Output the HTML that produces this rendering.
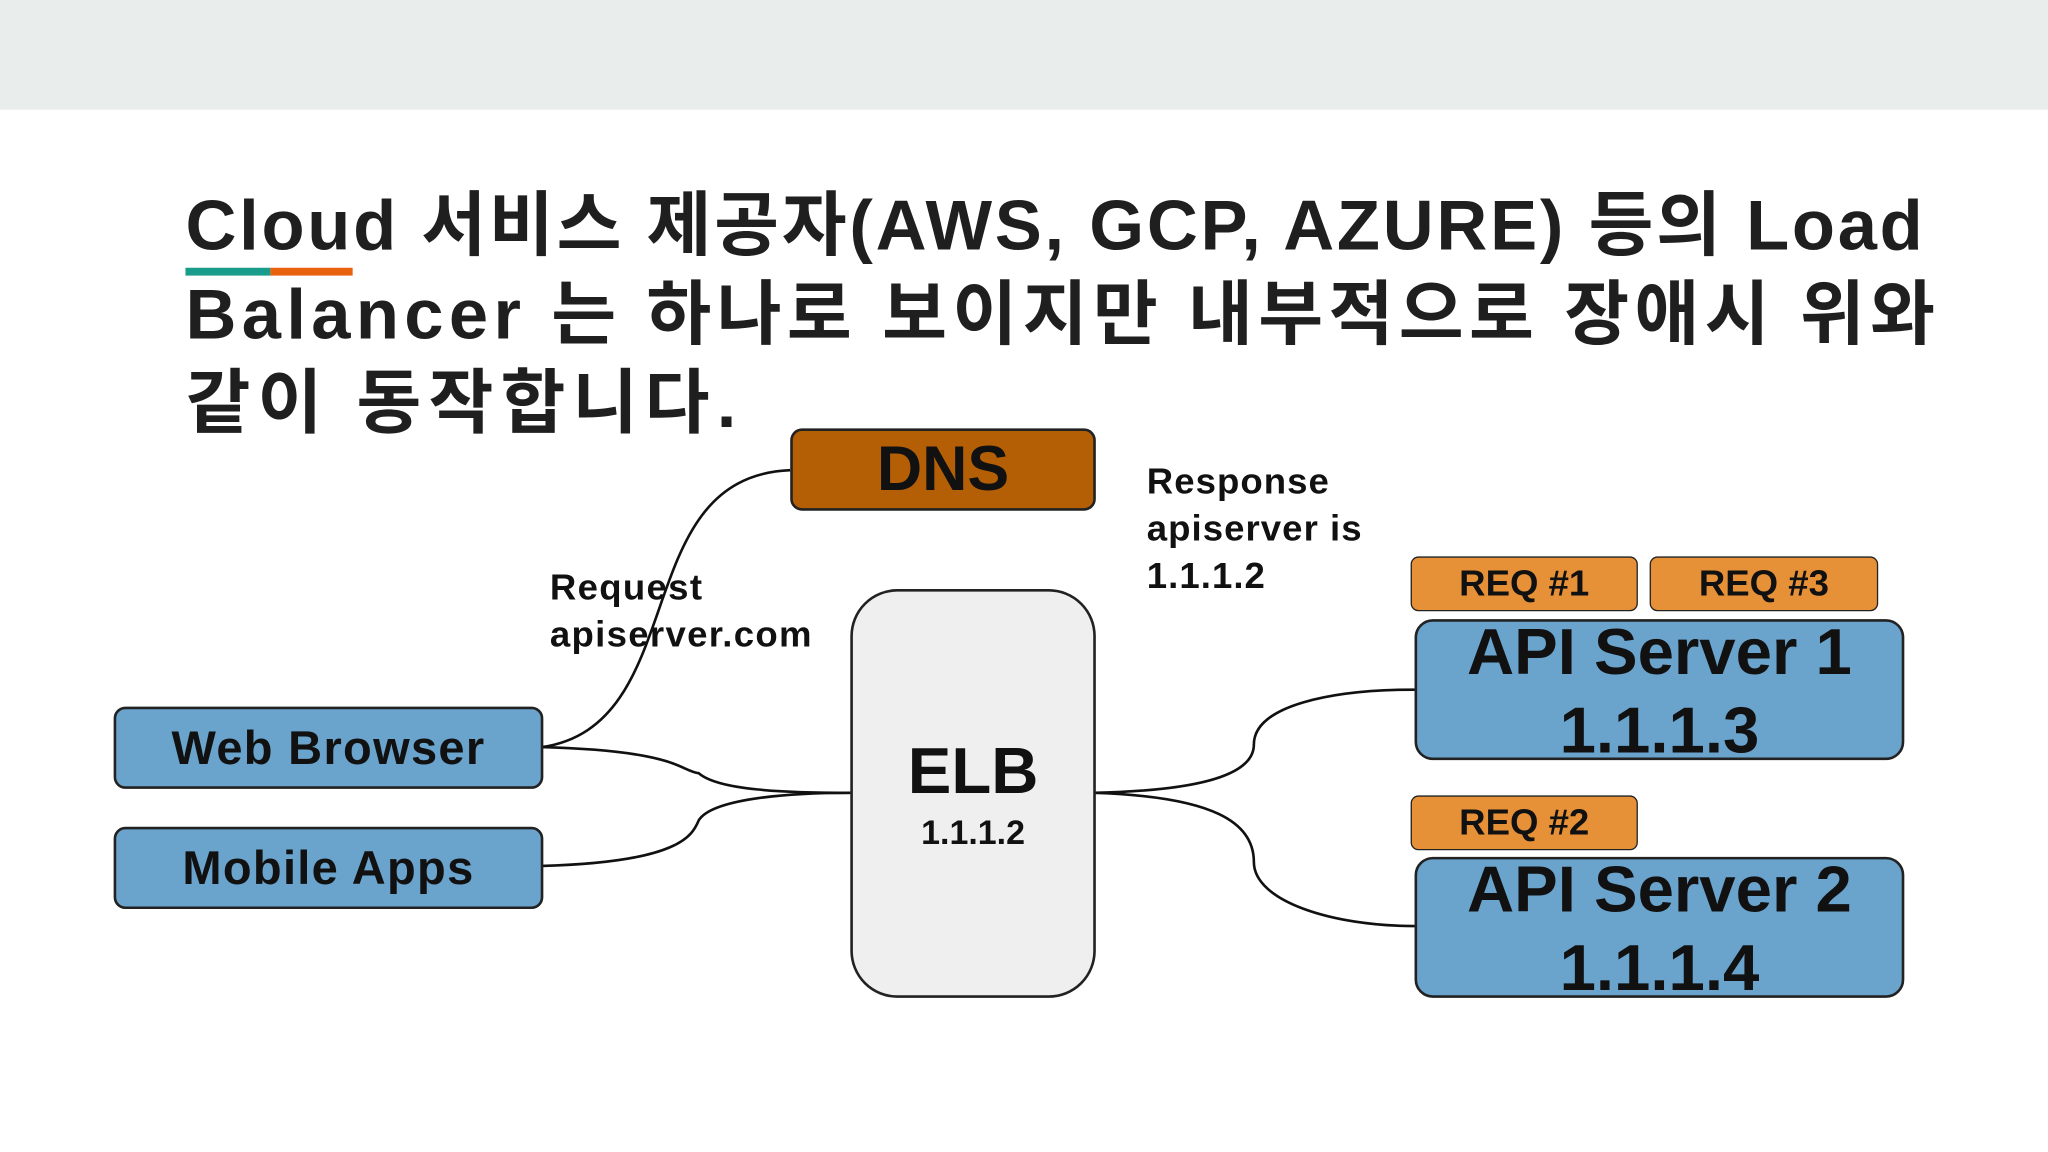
<!DOCTYPE html>
<html><head><meta charset="utf-8"><style>
html,body{margin:0;padding:0;background:#fff;overflow:hidden;width:2048px;height:1152px}
#w{position:absolute;left:0;top:0;width:1568px;height:882px;transform:scale(1.306122);transform-origin:0 0;font-family:"Liberation Sans","Noto Sans CJK KR",sans-serif}
.t{position:absolute;white-space:nowrap;color:#1f1f1f;font-weight:bold}
.b{position:absolute;box-sizing:border-box;border:2px solid #222;display:flex;align-items:center;justify-content:center;font-weight:bold;color:#111;flex-direction:column}
</style></head><body><div id="w">
<div style="position:absolute;left:0;top:0;width:1568px;height:84px;background:#e9eeed"></div>
<div class="t" style="left:142px;top:139px;font-size:54px;line-height:68px"><span style="letter-spacing:2.1px">Cloud 서비스 제공자(AWS, GCP, AZURE) 등의 Load</span><br><span style="letter-spacing:4.1px">Balancer 는 하나로 보이지만 내부적으로 장애시 위와</span><br><span style="letter-spacing:5.5px">같이 동작합니다.</span></div>
<div style="position:absolute;left:142px;top:205px;width:65px;height:6px;background:#1a9c8a"></div>
<div style="position:absolute;left:207px;top:205px;width:63px;height:6px;background:#e8620e"></div>
<svg width="1568" height="882" style="position:absolute;left:0;top:0" fill="none" stroke="#111" stroke-width="2">
<path d="M415,572 C530,555 480,365 605,360"/>
<path d="M415,572 C520,575 520,590 535,592 C550,605 600,607 651,607"/>
<path d="M415,663 C520,660 530,640 535,628 C545,612 600,607 651,607"/>
<path d="M838,607 C930,605 960,590 960,570 C960,540 1020,528 1083,528"/>
<path d="M838,607 C930,610 960,630 960,660 C960,690 1020,709 1083,709"/>
</svg>
<div class="b" style="left:605px;top:328px;width:234px;height:63px;background:#b45f06;border-radius:9px;font-size:48px">DNS</div>
<div class="t" style="left:878px;top:351px;font-size:28px;line-height:36px;color:#111;letter-spacing:0.8px">Response<br>apiserver is<br>1.1.1.2</div>
<div class="t" style="left:421px;top:432px;font-size:28px;line-height:36px;color:#111;letter-spacing:1px">Request<br>apiserver.com</div>
<div class="b" style="left:651px;top:451px;width:188px;height:313px;background:#efefef;border-radius:36px"><div style="font-size:50px;line-height:56px">ELB</div><div style="font-size:26px;margin-top:4px;font-weight:bold">1.1.1.2</div></div>
<div class="b" style="left:87px;top:541px;width:329px;height:63px;background:#6aa3cc;border-radius:9px;font-size:36px;letter-spacing:1px">Web Browser</div>
<div class="b" style="left:87px;top:633px;width:329px;height:63px;background:#6aa3cc;border-radius:9px;font-size:36px;letter-spacing:1px">Mobile Apps</div>
<div class="b" style="left:1080px;top:426px;width:174px;height:42px;background:#e69138;border-radius:6px;font-size:28px;border-width:1.5px">REQ #1</div>
<div class="b" style="left:1263px;top:426px;width:175px;height:42px;background:#e69138;border-radius:6px;font-size:28px;border-width:1.5px">REQ #3</div>
<div class="b" style="left:1080px;top:609px;width:174px;height:42px;background:#e69138;border-radius:6px;font-size:28px;border-width:1.5px">REQ #2</div>
<div class="b" style="left:1083px;top:474px;width:375px;height:108px;background:#6aa3cc;border-radius:14px;font-size:50px;line-height:62px;justify-content:flex-start"><div style="margin-top:-8px">API Server 1</div><div style="margin-top:-2px">1.1.1.3</div></div>
<div class="b" style="left:1083px;top:656px;width:375px;height:108px;background:#6aa3cc;border-radius:14px;font-size:50px;line-height:62px;justify-content:flex-start"><div style="margin-top:-8px">API Server 2</div><div style="margin-top:-2px">1.1.1.4</div></div>
</div></body></html>
